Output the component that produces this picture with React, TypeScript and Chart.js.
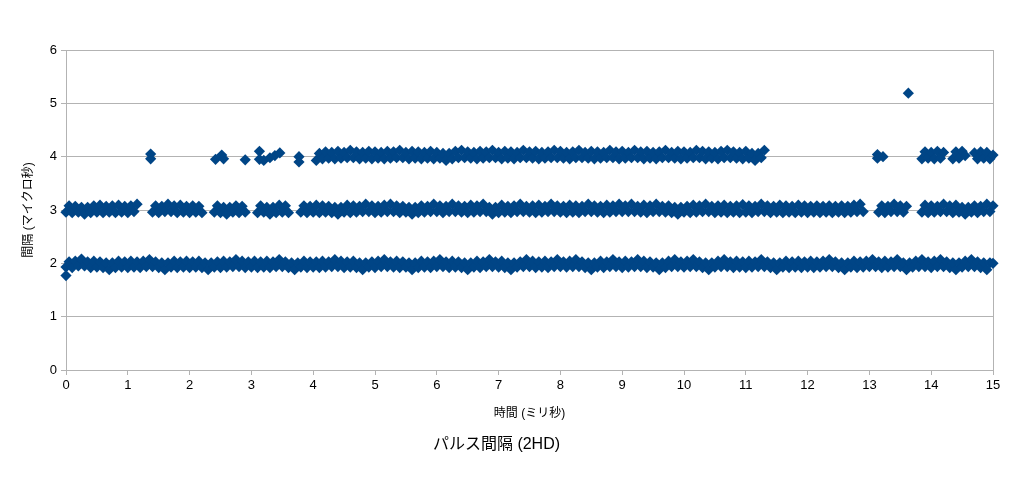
import React, { useEffect, useRef } from "react";
import { Chart, registerables } from "chart.js";

Chart.register(...registerables);

// Time axis (ms): sample grid (one row per millisecond)
const timeMs = [
  0, 0.05, 0.1, 0.15, 0.2, 0.25, 0.3, 0.35, 0.4, 0.45, 0.5, 0.55, 0.6, 0.65, 0.7, 0.75, 0.8, 0.85, 0.9, 0.95,
  1, 1.05, 1.1, 1.15, 1.2, 1.25, 1.3, 1.35, 1.4, 1.45, 1.5, 1.55, 1.6, 1.65, 1.7, 1.75, 1.8, 1.85, 1.9, 1.95,
  2, 2.05, 2.1, 2.15, 2.2, 2.25, 2.3, 2.35, 2.4, 2.45, 2.5, 2.55, 2.6, 2.65, 2.7, 2.75, 2.8, 2.85, 2.9, 2.95,
  3, 3.05, 3.1, 3.15, 3.2, 3.25, 3.3, 3.35, 3.4, 3.45, 3.5, 3.55, 3.6, 3.65, 3.7, 3.75, 3.8, 3.85, 3.9, 3.95,
  4, 4.05, 4.1, 4.15, 4.2, 4.25, 4.3, 4.35, 4.4, 4.45, 4.5, 4.55, 4.6, 4.65, 4.7, 4.75, 4.8, 4.85, 4.9, 4.95,
  5, 5.05, 5.1, 5.15, 5.2, 5.25, 5.3, 5.35, 5.4, 5.45, 5.5, 5.55, 5.6, 5.65, 5.7, 5.75, 5.8, 5.85, 5.9, 5.95,
  6, 6.05, 6.1, 6.15, 6.2, 6.25, 6.3, 6.35, 6.4, 6.45, 6.5, 6.55, 6.6, 6.65, 6.7, 6.75, 6.8, 6.85, 6.9, 6.95,
  7, 7.05, 7.1, 7.15, 7.2, 7.25, 7.3, 7.35, 7.4, 7.45, 7.5, 7.55, 7.6, 7.65, 7.7, 7.75, 7.8, 7.85, 7.9, 7.95,
  8, 8.05, 8.1, 8.15, 8.2, 8.25, 8.3, 8.35, 8.4, 8.45, 8.5, 8.55, 8.6, 8.65, 8.7, 8.75, 8.8, 8.85, 8.9, 8.95,
  9, 9.05, 9.1, 9.15, 9.2, 9.25, 9.3, 9.35, 9.4, 9.45, 9.5, 9.55, 9.6, 9.65, 9.7, 9.75, 9.8, 9.85, 9.9, 9.95,
  10, 10.05, 10.1, 10.15, 10.2, 10.25, 10.3, 10.35, 10.4, 10.45, 10.5, 10.55, 10.6, 10.65, 10.7, 10.75, 10.8, 10.85, 10.9, 10.95,
  11, 11.05, 11.1, 11.15, 11.2, 11.25, 11.3, 11.35, 11.4, 11.45, 11.5, 11.55, 11.6, 11.65, 11.7, 11.75, 11.8, 11.85, 11.9, 11.95,
  12, 12.05, 12.1, 12.15, 12.2, 12.25, 12.3, 12.35, 12.4, 12.45, 12.5, 12.55, 12.6, 12.65, 12.7, 12.75, 12.8, 12.85, 12.9, 12.95,
  13, 13.05, 13.1, 13.15, 13.2, 13.25, 13.3, 13.35, 13.4, 13.45, 13.5, 13.55, 13.6, 13.65, 13.7, 13.75, 13.8, 13.85, 13.9, 13.95,
  14, 14.05, 14.1, 14.15, 14.2, 14.25, 14.3, 14.35, 14.4, 14.45, 14.5, 14.55, 14.6, 14.65, 14.7, 14.75, 14.8, 14.85, 14.9, 14.95,
  15,
];

// Interval (µs) near 2 µs
const band2Interval = [
  1.93, 2.03, 1.92, 2.04, 1.95, 2.08, 1.95, 2.03, 1.92, 2.04, 1.93, 2.03, 1.92, 2.01, 1.88, 2.01, 1.92, 2.04, 1.93, 2.03,
  1.92, 2.04, 1.93, 2.03, 1.92, 2.04, 1.94, 2.07, 1.94, 2.03, 1.92, 2.01, 1.88, 2.01, 1.93, 2.04, 1.92, 2.03, 1.93, 2.04,
  1.92, 2.03, 1.93, 2.04, 1.92, 2.01, 1.88, 2.01, 1.93, 2.03, 1.92, 2.04, 1.93, 2.03, 1.94, 2.07, 1.94, 2.04, 1.92, 2.03,
  1.93, 2.04, 1.92, 2.03, 1.93, 2.04, 1.92, 2.03, 1.94, 2.07, 1.94, 2.03, 1.92, 2.01, 1.88, 2.01, 1.93, 2.04, 1.92, 2.03,
  1.93, 2.03, 1.92, 2.04, 1.93, 2.03, 1.94, 2.07, 1.94, 2.04, 1.92, 2.03, 1.93, 2.04, 1.92, 2.01, 1.88, 2.01, 1.93, 2.03,
  1.92, 2.04, 1.94, 2.07, 1.94, 2.03, 1.93, 2.04, 1.92, 2.03, 1.93, 2.01, 1.88, 2.01, 1.92, 2.04, 1.93, 2.03, 1.92, 2.04,
  1.94, 2.07, 1.94, 2.03, 1.92, 2.04, 1.93, 2.03, 1.92, 2.01, 1.88, 2.01, 1.93, 2.04, 1.92, 2.03, 1.94, 2.07, 1.94, 2.03,
  1.93, 2.04, 1.92, 2.01, 1.88, 2.01, 1.93, 2.03, 1.94, 2.07, 1.94, 2.04, 1.92, 2.03, 1.93, 2.04, 1.92, 2.03, 1.94, 2.07,
  1.94, 2.03, 1.93, 2.04, 1.94, 2.07, 1.94, 2.03, 1.92, 2.01, 1.88, 2.01, 1.93, 2.04, 1.92, 2.03, 1.94, 2.07, 1.94, 2.03,
  1.92, 2.04, 1.93, 2.03, 1.94, 2.07, 1.94, 2.04, 1.92, 2.03, 1.93, 2.01, 1.88, 2.01, 1.92, 2.04, 1.94, 2.07, 1.94, 2.03,
  1.93, 2.04, 1.94, 2.07, 1.94, 2.03, 1.92, 2.01, 1.88, 2.01, 1.93, 2.04, 1.94, 2.07, 1.94, 2.03, 1.92, 2.04, 1.93, 2.03,
  1.92, 2.04, 1.93, 2.03, 1.94, 2.07, 1.94, 2.03, 1.92, 2.01, 1.88, 2.01, 1.93, 2.04, 1.92, 2.03, 1.93, 2.04, 1.92, 2.03,
  1.93, 2.04, 1.92, 2.03, 1.93, 2.04, 1.94, 2.07, 1.94, 2.03, 1.92, 2.01, 1.88, 2.01, 1.93, 2.04, 1.92, 2.03, 1.93, 2.04,
  1.94, 2.07, 1.94, 2.03, 1.92, 2.04, 1.93, 2.03, 1.94, 2.07, 1.94, 2.01, 1.88, 2.01, 1.93, 2.04, 1.94, 2.07, 1.94, 2.03,
  1.92, 2.04, 1.94, 2.07, 1.94, 2.03, 1.92, 2.01, 1.88, 2.01, 1.93, 2.04, 1.94, 2.07, 1.94, 2.03, 1.92, 2.01, 1.88, 2.01,
  2.0,
];

// Interval (µs) near 3 µs (null = no pulse there)
const band3Interval = [
  2.96, 3.08, 2.95, 3.07, 2.96, 3.05, 2.92, 3.05, 2.95, 3.08, 2.96, 3.09, 2.95, 3.07, 2.96, 3.08, 2.95, 3.09, 2.96, 3.07,
  2.95, 3.08, 2.97, 3.11, null, null, null, null, 2.96, 3.08, 2.95, 3.07, 2.97, 3.11, 2.97, 3.08, 2.95, 3.09, 2.96, 3.07,
  2.95, 3.08, 2.96, 3.07, 2.95, null, null, null, 2.96, 3.08, 2.95, 3.05, 2.92, 3.05, 2.96, 3.08, 2.95, 3.07, 2.96, null,
  null, null, 2.95, 3.08, 2.96, 3.05, 2.92, 3.05, 2.95, 3.09, 2.96, 3.08, 2.95, null, null, null, 2.96, 3.08, 2.95, 3.07,
  2.96, 3.09, 2.95, 3.08, 2.96, 3.07, 2.95, 3.05, 2.92, 3.05, 2.96, 3.09, 2.95, 3.08, 2.96, 3.07, 2.97, 3.11, 2.97, 3.08,
  2.95, 3.07, 2.96, 3.09, 2.97, 3.11, 2.97, 3.08, 2.95, 3.07, 2.96, 3.05, 2.92, 3.05, 2.95, 3.08, 2.96, 3.07, 2.97, 3.11,
  2.97, 3.08, 2.95, 3.07, 2.97, 3.11, 2.97, 3.08, 2.96, 3.07, 2.95, 3.09, 2.96, 3.08, 2.97, 3.11, 2.97, 3.05, 2.92, 3.05,
  2.95, 3.09, 2.96, 3.07, 2.95, 3.08, 2.97, 3.11, 2.97, 3.07, 2.96, 3.08, 2.95, 3.09, 2.96, 3.07, 2.97, 3.11, 2.97, 3.08,
  2.96, 3.07, 2.95, 3.09, 2.96, 3.08, 2.95, 3.07, 2.97, 3.11, 2.97, 3.08, 2.96, 3.07, 2.95, 3.09, 2.96, 3.08, 2.97, 3.11,
  2.97, 3.08, 2.97, 3.11, 2.97, 3.07, 2.96, 3.09, 2.95, 3.08, 2.97, 3.11, 2.97, 3.07, 2.96, 3.08, 2.95, 3.05, 2.92, 3.05,
  2.96, 3.07, 2.95, 3.09, 2.96, 3.08, 2.97, 3.11, 2.97, 3.07, 2.95, 3.08, 2.96, 3.09, 2.95, 3.07, 2.96, 3.08, 2.95, 3.1,
  2.96, 3.08, 2.95, 3.07, 2.97, 3.11, 2.97, 3.08, 2.95, 3.07, 2.96, 3.09, 2.95, 3.08, 2.96, 3.07, 2.95, 3.09, 2.96, 3.08,
  2.95, 3.07, 2.96, 3.08, 2.95, 3.07, 2.96, 3.08, 2.95, 3.07, 2.96, 3.08, 2.95, 3.07, 2.96, 3.09, 2.97, 3.11, 2.97, null,
  null, null, null, 2.96, 3.08, 2.95, 3.07, 2.97, 3.11, 2.97, 3.08, 2.96, 3.07, null, null, null, null, 2.96, 3.09, 2.95,
  3.08, 2.96, 3.07, 2.97, 3.11, 2.97, 3.08, 2.95, 3.09, 2.96, 3.05, 2.92, 3.05, 2.96, 3.08, 2.95, 3.07, 2.97, 3.11, 2.97,
  3.08,
];

// Interval (µs) near 4 µs (null = no pulse there)
const band4Interval = [
  null, null, null, null, null, null, null, null, null, null, null, null, null, null, null, null, null, null, null, null,
  null, null, null, null, null, null, null, null, null, null, null, null, null, null, null, null, null, null, null, null,
  null, null, null, null, null, null, null, null, null, null, null, null, null, null, null, null, null, null, null, null,
  null, null, null, null, null, null, null, null, null, null, null, null, null, null, null, null, null, null, null, null,
  null, 3.93, 4.06, 3.96, 4.09, 3.97, 4.08, 3.96, 4.1, 3.97, 4.08, 3.98, 4.12, 3.98, 4.09, 3.96, 4.08, 3.97, 4.1, 3.96,
  4.09, 3.97, 4.08, 3.96, 4.1, 3.97, 4.09, 3.98, 4.12, 3.98, 4.08, 3.96, 4.1, 3.97, 4.09, 3.96, 4.08, 3.97, 4.1, 3.96,
  4.08, 3.97, 4.06, 3.93, 4.06, 3.96, 4.1, 3.98, 4.12, 3.98, 4.09, 3.97, 4.08, 3.96, 4.1, 3.97, 4.09, 3.98, 4.12, 3.98,
  4.08, 3.96, 4.1, 3.97, 4.09, 3.96, 4.08, 3.98, 4.12, 3.98, 4.09, 3.97, 4.1, 3.96, 4.08, 3.97, 4.09, 3.98, 4.12, 3.98,
  4.1, 3.97, 4.08, 3.96, 4.09, 3.98, 4.12, 3.98, 4.08, 3.97, 4.1, 3.96, 4.09, 3.97, 4.08, 3.98, 4.12, 3.98, 4.09, 3.96,
  4.1, 3.97, 4.08, 3.98, 4.12, 3.98, 4.09, 3.96, 4.1, 3.97, 4.08, 3.96, 4.09, 3.98, 4.12, 3.98, 4.08, 3.97, 4.1, 3.96,
  4.09, 3.97, 4.08, 3.98, 4.12, 3.98, 4.1, 3.96, 4.09, 3.97, 4.08, 3.96, 4.1, 3.98, 4.12, 3.98, 4.09, 3.97, 4.08, 3.96,
  4.1, 3.97, 4.06, 3.93, 4.06, 3.98, 4.12, null, null, null, null, null, null, null, null, null, null, null, null, null,
  null, null, null, null, null, null, null, null, null, null, null, null, null, null, null, null, null, null, null, null,
  null, null, null, null, null, null, null, null, null, null, null, null, null, null, null, null, null, 3.96, 4.09, 3.97,
  4.08, 3.96, 4.1, 3.97, 4.08, null, null, 3.96, 4.09, 3.97, 4.1, 4.02, null, null, 4.07, 3.96, 4.09, 3.97, 4.08, 3.96,
  4.03,
];

// Isolated pulses off the grid
const extraTime = [
  0, 1.37, 1.37, 2.42, 2.52, 2.55, 2.9, 3.13, 3.13, 3.2, 3.3, 3.38, 3.46,
  3.77, 3.77, 13.13, 13.13, 13.22, 13.63,
];
const extraInterval = [
  1.77, 3.96, 4.05, 3.95, 4.03, 3.96, 3.94, 4.1, 3.95, 3.93, 3.98, 4.02, 4.07,
  4.0, 3.9, 4.04, 3.97, 4.0, 5.19,
];

const chartTitle = "パルス間隔 (2HD)";
const xAxisTitle = "時間 (ミリ秒)";
const yAxisTitle = "間隔 (マイクロ秒)";

const GRID = "#b3b3b3";
const SERIES = "#004586";
const LATIN = "'Liberation Sans', Arial, sans-serif";
const CJK = "'Liberation Sans', 'Noto Sans CJK JP', sans-serif";

function buildPoints() {
  const pts: { x: number; y: number }[] = [];
  [band2Interval, band3Interval, band4Interval].forEach((band) => {
    band.forEach((v, i) => {
      if (v !== null) pts.push({ x: timeMs[i], y: v as number });
    });
  });
  extraTime.forEach((t, i) => pts.push({ x: t, y: extraInterval[i] }));
  return pts;
}

export default function App() {
  const ref = useRef<HTMLCanvasElement>(null);

  useEffect(() => {
    if (!ref.current) return;
    const chart = new Chart(ref.current, {
      type: "scatter",
      data: {
        datasets: [
          {
            label: "間隔",
            data: buildPoints(),
            pointStyle: "rectRot",
            pointRadius: 5.6,
            pointHoverRadius: 5.6,
            pointBackgroundColor: SERIES,
            pointBorderColor: SERIES,
            pointBorderWidth: 0,
            backgroundColor: SERIES,
            borderColor: SERIES,
            clip: false,
          } as any,
        ],
      },
      options: {
        responsive: false,
        animation: false,
        events: [],
        layout: { padding: { top: 50, right: 31, left: 0, bottom: 0 } },
        plugins: {
          legend: { display: false },
          tooltip: { enabled: false },
          title: {
            display: true,
            position: "bottom",
            text: chartTitle,
            color: "#000",
            font: { family: CJK, size: 16, weight: "normal", lineHeight: 1.2 },
            padding: { top: 2, bottom: 25.4 },
          },
        },
        scales: {
          x: {
            type: "linear",
            min: 0,
            max: 15,
            afterFit: (s: any) => {
              s.height = 63.4;
            },
            ticks: {
              stepSize: 1,
              color: "#000",
              font: { family: LATIN, size: 13 },
              padding: 3,
              maxRotation: 0,
            },
            grid: {
              color: (ctx: any) =>
                ctx.tick && ctx.tick.value === 15 ? GRID : "rgba(0,0,0,0)",
              tickColor: GRID,
              tickLength: 5,
              lineWidth: 1,
            },
            border: { color: GRID, width: 1 },
            title: {
              display: true,
              text: xAxisTitle,
              color: "#000",
              font: { family: CJK, size: 12, lineHeight: 1.2 },
              padding: { top: 0, bottom: 12.2 },
            },
          },
          y: {
            type: "linear",
            min: 0,
            max: 6,
            afterFit: (s: any) => {
              s.width = 66;
            },
            ticks: {
              stepSize: 1,
              color: "#000",
              font: { family: LATIN, size: 13 },
              padding: 4,
            },
            grid: {
              color: GRID,
              tickColor: GRID,
              tickLength: 5,
              lineWidth: 1,
            },
            border: { color: GRID, width: 1 },
            title: {
              display: true,
              text: yAxisTitle,
              color: "#000",
              font: { family: CJK, size: 12, lineHeight: 1.2 },
              padding: { top: 21.1, bottom: 0 },
            },
          },
        },
      } as any,
    });
    return () => chart.destroy();
  }, []);

  return (
    <div
      style={{
        position: "absolute",
        left: 0,
        top: 0,
        width: 1024,
        height: 480,
        background: "#fff",
      }}
    >
      <canvas ref={ref} width={1024} height={480} style={{ display: "block" }} />
    </div>
  );
}
